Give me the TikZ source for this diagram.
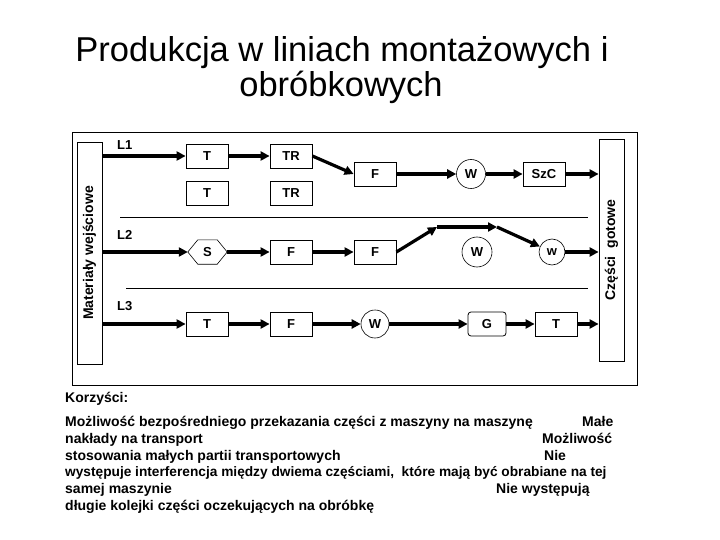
\documentclass[tikz,border=0pt]{standalone}
\usepackage{fontspec}
\setmainfont{Liberation Sans}
\usetikzlibrary{arrows.meta,calc}
\begin{document}
\begin{tikzpicture}[x=1pt,y=-1pt,
  lbl/.style={font=\bfseries\fontsize{13}{15}\selectfont},
  box/.style={draw, line width=0.8pt, minimum width=42pt, minimum height=24pt, inner sep=0pt, lbl},
  circ/.style={draw, circle, line width=0.6pt, inner sep=0pt, lbl},
  side/.style={draw, line width=0.8pt, rotate=90, minimum width=222pt, minimum height=25pt, inner sep=0pt, font=\bfseries\fontsize{14}{16}\selectfont},
  arr/.style={line width=3.2pt, -{Triangle[length=9pt,width=9pt]}},
  sep/.style={line width=0.8pt},
  body/.style={anchor=base west, inner sep=0pt, font=\bfseries\fontsize{14}{16}\selectfont},
  ttl/.style={anchor=base, inner sep=0pt, font=\fontsize{34.5}{36}\selectfont}]
\useasboundingbox (0,0) rectangle (720,540);
% title
\node[ttl] (ti1) at (342,62) {Produkcja w liniach montażowych i};
\node[ttl] (ti2) at (341,97) {obróbkowych};
% frame
\draw[line width=0.8pt] (72,132) rectangle (637,385);
% side boxes
\node[side] (in) at (89.5,253) {Materiały wejściowe};
\node[side] (out) at (611.5,250) {Części\ \ gotowe};
% separators
\draw[sep] (120,217) -- (588,217);
\draw[sep] (126,288) -- (588,288);
% line labels
\node[lbl, anchor=west, inner sep=0pt] (l1) at (117,145) {L1};
\node[lbl, anchor=west, inner sep=0pt] (l2) at (117,235) {L2};
\node[lbl, anchor=west, inner sep=0pt] (l3) at (117,306) {L3};
% L1
\node[box] (t1) at (207,156) {T};
\node[box] (tr1) at (291,156) {TR};
\node[box] (t2) at (207,193) {T};
\node[box] (tr2) at (291,193) {TR};
\node[box] (f1) at (375,174) {F};
\node[circ, minimum size=29pt] (w1) at (471,174) {W};
\node[box] (szc) at (544,174) {SzC};
% L2
\node[lbl, minimum width=39pt, minimum height=24pt, inner sep=0pt] (s2) at (207.5,252) {S};
\draw[line width=0.6pt] (s2.west) -- ($(s2.north west)+(10,0)$) -- ($(s2.north east)+(-10,0)$) -- (s2.east) -- ($(s2.south east)+(-10,0)$) -- ($(s2.south west)+(10,0)$) -- cycle;
\node[box] (f2) at (291,252) {F};
\node[box] (f3) at (375,252) {F};
\node[circ, minimum size=30pt] (w2) at (477,252) {W};
\node[circ, minimum size=26pt] (w3) at (552,252) {w};
\coordinate (up1) at (437,227);
\coordinate (up2) at (497,227);
% L3
\node[box] (t3) at (207,324) {T};
\node[box] (f4) at (291,324) {F};
\node[circ, minimum size=28pt] (w4) at (375,324) {W};
\node[box, minimum width=38pt, rounded corners=3pt] (g) at (487,324) {G};
\node[box] (t4) at (556,324) {T};
% arrows L1
\draw[arr] (in.south |- t1.west) -- (t1.west);
\draw[arr] (t1) -- (tr1);
\draw[arr] (tr1.east) -- (f1.west);
\draw[arr] (f1) -- (w1);
\draw[arr] (w1) -- (szc);
\draw[arr] (szc.east) -- (szc.east -| out.north);
% arrows L2
\draw[arr] (in.south |- s2.west) -- (s2.west);
\draw[arr] (s2) -- (f2);
\draw[arr] (f2) -- (f3);
\draw[arr] (f3.east) -- (up1);
\draw[arr] (up1) -- (up2);
\draw[arr] (up2) -- (w3);
\draw[arr] (w3.east) -- (w3.east -| out.north);
% arrows L3
\draw[arr] (in.south |- t3.west) -- (t3.west);
\draw[arr] (t3) -- (f4);
\draw[arr] (f4) -- (w4);
\draw[arr] (w4) -- (g);
\draw[arr] (g) -- (t4);
\draw[arr] (t4.east) -- (t4.east -| out.north);
% text
\node[body] (k) at (65,402) {Korzyści:};
\node[body] (b1) at (65,426) {Możliwość bezpośredniego przekazania części z maszyny na maszynę};
\node[body] (b1r) at (582,426) {Małe};
\node[body] (b2) at (65,443) {nakłady na transport};
\node[body] (b2r) at (542,443) {Możliwość};
\node[body] (b3) at (65,460) {stosowania małych partii transportowych};
\node[body] (b3r) at (544,460) {Nie};
\node[body, font=\bfseries\fontsize{13.7}{16}\selectfont] (b4) at (65,476.5) {występuje interferencja między dwiema częściami,\ \ które mają być obrabiane na tej};
\node[body] (b5) at (65,493) {samej maszynie};
\node[body] (b5r) at (496,493) {Nie występują};
\node[body] (b6) at (65,510) {długie kolejki części oczekujących na obróbkę};
\end{tikzpicture}
\end{document}
